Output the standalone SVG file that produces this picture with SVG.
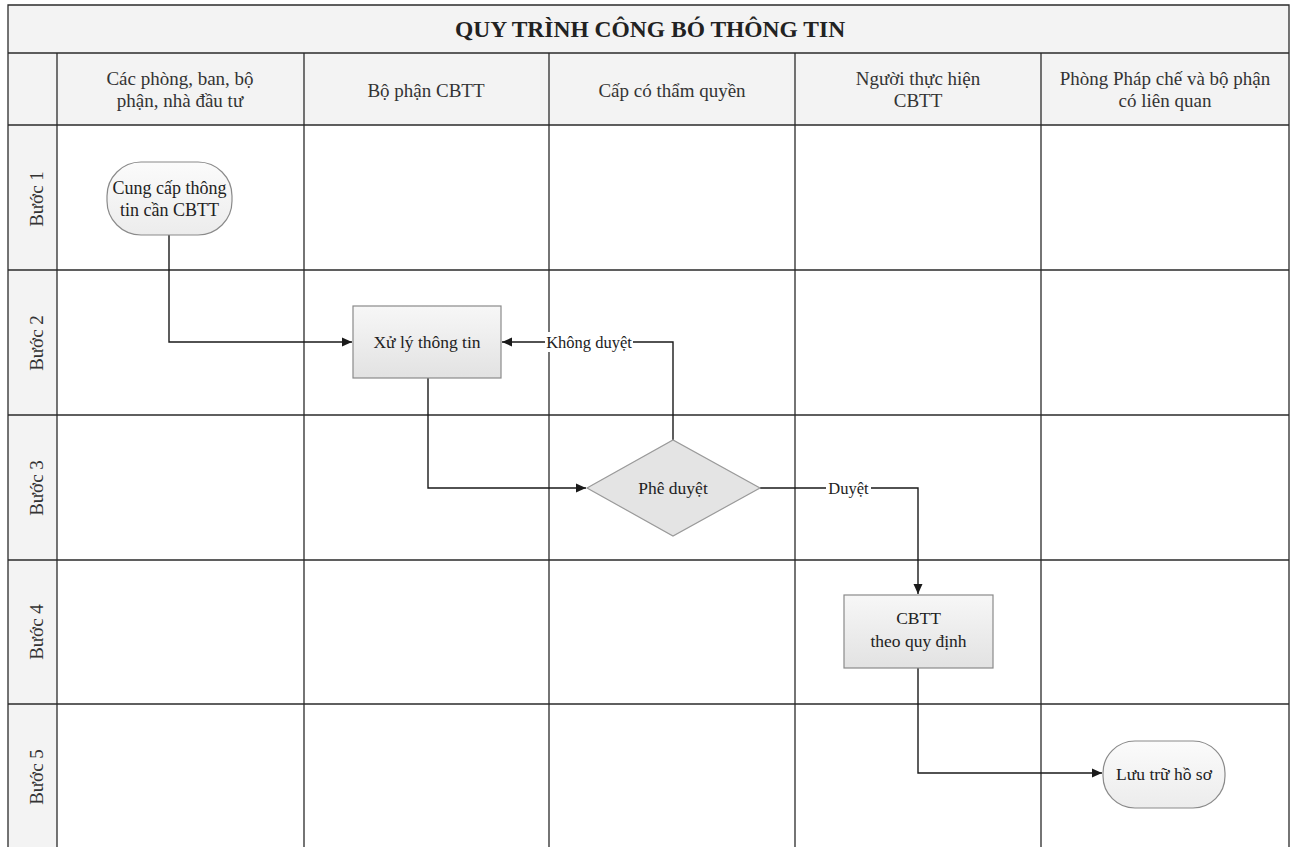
<svg xmlns="http://www.w3.org/2000/svg" width="1293" height="847" viewBox="0 0 1293 847">
  <defs>
    <marker id="arr" viewBox="0 0 10 10" refX="10" refY="5" markerWidth="10" markerHeight="10" markerUnits="userSpaceOnUse" orient="auto">
      <path d="M0,0.5 L10,5 L0,9.5 Z" fill="#1a1a1a"/>
    </marker>
    <linearGradient id="gfill" x1="0" y1="0" x2="0" y2="1">
      <stop offset="0" stop-color="#f7f7f7"/>
      <stop offset="1" stop-color="#e2e2e2"/>
    </linearGradient>
    <linearGradient id="tfill" x1="0" y1="0" x2="0" y2="1">
      <stop offset="0" stop-color="#fbfbfb"/>
      <stop offset="1" stop-color="#ececec"/>
    </linearGradient>
  </defs>
  <style>
    .grid { stroke: #2b2b2b; stroke-width: 1.3; fill: none; }
    .t { font-family: "Liberation Serif", "Times New Roman", serif; fill: #222; text-anchor: middle; }
    .title { font-size: 23.5px; font-weight: bold; }
    .hdr { font-size: 19px; fill: #333; }
    .row { font-size: 19px; fill: #333; }
    .node { font-size: 17.5px; }
    .lbl { font-size: 16.5px; }
    .box { fill: url(#gfill); stroke: #8a8a8a; stroke-width: 1.2; }
    .term { fill: url(#tfill); stroke: #8a8a8a; stroke-width: 1.2; }
    .dia { fill: #e4e4e4; stroke: #9a9a9a; stroke-width: 1.2; }
    .conn { stroke: #1a1a1a; stroke-width: 1.4; fill: none; }
  </style>

  <rect x="0" y="0" width="1293" height="847" fill="#ffffff"/>

  <g id="table">
    <rect x="8" y="5" width="1281" height="120" fill="#f3f3f3"/>
    <rect x="8" y="125" width="49" height="722" fill="#f3f3f3"/>
    <path class="grid" d="M8,847 V5 H1289 V847"/>
    <path class="grid" d="M8,53 H1289 M8,125 H1289 M8,270 H1289 M8,415 H1289 M8,560 H1289 M8,704 H1289"/>
    <path class="grid" d="M57,53 V847 M304,53 V847 M549,53 V847 M795,53 V847 M1041,53 V847"/>
    <text class="t title" x="650" y="37">QUY TRÌNH CÔNG BÓ THÔNG TIN</text>
    <text class="t hdr" x="180" y="85">Các phòng, ban, bộ</text>
    <text class="t hdr" x="180" y="107">phận, nhà đầu tư</text>
    <text class="t hdr" x="426" y="97">Bộ phận CBTT</text>
    <text class="t hdr" x="672" y="97">Cấp có thẩm quyền</text>
    <text class="t hdr" x="918" y="85">Người thực hiện</text>
    <text class="t hdr" x="918" y="107">CBTT</text>
    <text class="t hdr" x="1165" y="85">Phòng Pháp chế và bộ phận</text>
    <text class="t hdr" x="1165" y="107">có liên quan</text>
    <text class="t row" x="43" y="199" transform="rotate(-90 43 199)">Bước 1</text>
    <text class="t row" x="43" y="343" transform="rotate(-90 43 343)">Bước 2</text>
    <text class="t row" x="43" y="488" transform="rotate(-90 43 488)">Bước 3</text>
    <text class="t row" x="43" y="632" transform="rotate(-90 43 632)">Bước 4</text>
    <text class="t row" x="43" y="777" transform="rotate(-90 43 777)">Bước 5</text>
  </g>

  <g id="connectors">
    <path class="conn" d="M169,235 V342 H352" marker-end="url(#arr)"/>
    <path class="conn" d="M428,378 V488 H586" marker-end="url(#arr)"/>
    <path class="conn" d="M673,440 V342 H502" marker-end="url(#arr)"/>
    <path class="conn" d="M760,488 H918 V594" marker-end="url(#arr)"/>
    <path class="conn" d="M918,668 V773 H1102" marker-end="url(#arr)"/>
    <g id="label-khong-duyet">
      <rect x="545" y="332" width="88" height="20" fill="#ffffff"/>
      <text class="t lbl" x="589" y="348">Không duyệt</text>
    </g>
    <g id="label-duyet">
      <rect x="826" y="478" width="45" height="20" fill="#ffffff"/>
      <text class="t lbl" x="848.5" y="494">Duyệt</text>
    </g>
  </g>

  <g id="node-cung-cap">
    <rect class="term" x="107" y="162" width="125" height="73" rx="34" ry="34"/>
    <text class="t node" x="169.5" y="194" style="font-size:18px">Cung cấp thông</text>
    <text class="t node" x="169.5" y="216" style="font-size:18px">tin cần CBTT</text>
  </g>

  <g id="node-xu-ly">
    <rect class="box" x="353" y="306" width="148" height="72"/>
    <text class="t node" x="427" y="348">Xử lý thông tin</text>
  </g>

  <g id="node-phe-duyet">
    <polygon class="dia" points="587,488 673,440 760,488 673,536"/>
    <text class="t node" x="673" y="494">Phê duyệt</text>
  </g>

  <g id="node-cbtt">
    <rect class="box" x="844" y="595" width="149" height="73"/>
    <text class="t node" x="918.5" y="624">CBTT</text>
    <text class="t node" x="918.5" y="647">theo quy định</text>
  </g>

  <g id="node-luu-tru">
    <rect class="term" x="1103" y="741" width="122" height="67" rx="32" ry="32"/>
    <text class="t node" x="1164" y="780">Lưu trữ hồ sơ</text>
  </g>
</svg>
